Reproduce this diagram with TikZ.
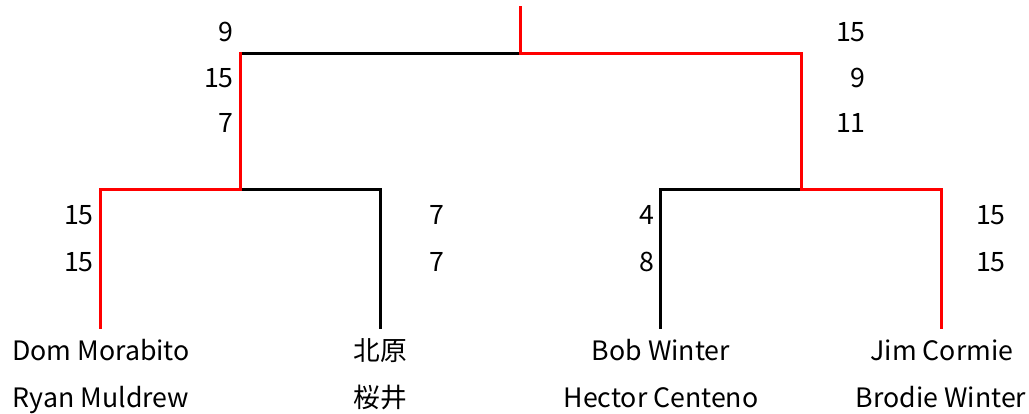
\documentclass[tikz,border=0pt]{standalone}
\usepackage{fontspec}
\setmainfont{Noto Sans CJK JP}
\begin{document}
\begin{tikzpicture}[x=1pt,y=-1pt,
    score/.style={anchor=base east, inner sep=0pt},
    player/.style={anchor=base, inner sep=0pt}]
    \useasboundingbox (0,0) rectangle (1029,414);
    \fontsize{26.7}{32}\selectfont

    \coordinate (top) at (520,8);
    \coordinate (f) at (520,54);
    \coordinate (s1) at (240,54);
    \coordinate (s2) at (801,54);
    \coordinate (q1) at (240,190);
    \coordinate (q2) at (801,190);
    \coordinate (l1) at (100,190);
    \coordinate (r1) at (380,190);
    \coordinate (l2) at (660,190);
    \coordinate (r2) at (941,190);
    \coordinate (e1) at (100,328);
    \coordinate (e2) at (380,328);
    \coordinate (e3) at (660,328);
    \coordinate (e4) at (941,328);

    \begin{scope}[every edge/.style={draw, line width=3pt, line cap=rect}]
        \path [-] (s1) edge (f);
        \path [-] (q1) edge (r1);
        \path [-] (r1) edge (e2);
        \path [-] (l2) edge (q2);
        \path [-] (l2) edge (e3);
        \path [-, red] (top) edge (f);
        \path [-, red] (f) edge (s2);
        \path [-, red] (s1) edge (q1);
        \path [-, red] (s2) edge (q2);
        \path [-, red] (l1) edge (q1);
        \path [-, red] (q2) edge (r2);
        \path [-, red] (l1) edge (e1);
        \path [-, red] (r2) edge (e4);
    \end{scope}

    % scores
    \node[score] (a1) at (234,42) {9};
    \node[score] (a2) at (234,88) {15};
    \node[score] (a3) at (234,133) {7};
    \node[score] (b1) at (866,42) {15};
    \node[score] (b2) at (866,88) {9};
    \node[score] (b3) at (866,133) {11};
    \node[score] (c1) at (94,225) {15};
    \node[score] (c2) at (94,272) {15};
    \node[score] (d1) at (445,225) {7};
    \node[score] (d2) at (445,272) {7};
    \node[score] (g1) at (655,225) {4};
    \node[score] (g2) at (655,272) {8};
    \node[score] (h1) at (1006,225) {15};
    \node[score] (h2) at (1006,272) {15};

    % players
    \node[player] (p1) at (101,360) {Dom Morabito};
    \node[player] (p2) at (101,407) {Ryan Muldrew};
    \node[player] (p3) at (380,360) {北原};
    \node[player] (p4) at (380,407) {桜井};
    \node[player] (p5) at (661,360) {Bob Winter};
    \node[player] (p6) at (661,407) {Hector Centeno};
    \node[player] (p7) at (942,360) {Jim Cormie};
    \node[player] (p8) at (941,407) {Brodie Winter};
\end{tikzpicture}
\end{document}
